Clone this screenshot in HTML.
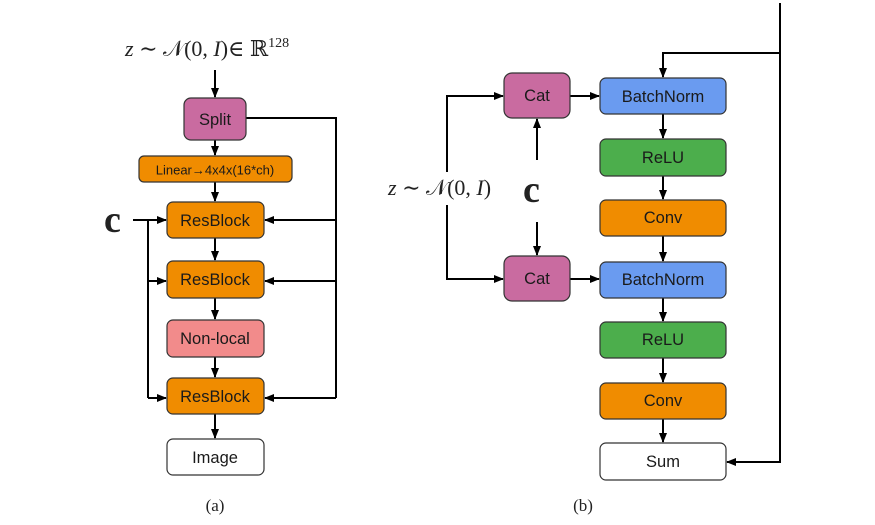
<!DOCTYPE html>
<html><head><meta charset="utf-8"><style>
html,body{margin:0;padding:0;background:#fff;}
svg{display:block;}
.b{font-family:"Liberation Sans",sans-serif;font-size:16.5px;text-anchor:middle;dominant-baseline:central;fill:#1a1a1a;}
.m{font-family:"Liberation Serif","DejaVu Serif",serif;fill:#222;}
</style></head><body>
<svg width="875" height="525" viewBox="0 0 875 525" xmlns="http://www.w3.org/2000/svg">
<defs>
<marker id="a" markerWidth="10" markerHeight="10" refX="9" refY="5" orient="auto" markerUnits="userSpaceOnUse">
<path d="M0,1 L10,5 L0,9 z" fill="#000"/></marker>
</defs>
<g stroke="#000" stroke-width="2" fill="none">
<!-- panel a -->
<line x1="215" y1="70" x2="215" y2="97" marker-end="url(#a)"/>
<line x1="215" y1="140" x2="215" y2="155" marker-end="url(#a)"/>
<line x1="215" y1="182" x2="215" y2="201" marker-end="url(#a)"/>
<line x1="215" y1="238" x2="215" y2="260" marker-end="url(#a)"/>
<line x1="215" y1="298" x2="215" y2="319" marker-end="url(#a)"/>
<line x1="215" y1="357" x2="215" y2="377" marker-end="url(#a)"/>
<line x1="215" y1="414" x2="215" y2="438" marker-end="url(#a)"/>
<polyline points="246,118 336,118 336,398"/>
<line x1="336" y1="220" x2="265" y2="220" marker-end="url(#a)"/>
<line x1="336" y1="281" x2="265" y2="281" marker-end="url(#a)"/>
<line x1="336" y1="398" x2="265" y2="398" marker-end="url(#a)"/>
<line x1="133" y1="220" x2="166" y2="220" marker-end="url(#a)"/>
<line x1="148" y1="220" x2="148" y2="398"/>
<line x1="148" y1="281" x2="166" y2="281" marker-end="url(#a)"/>
<line x1="148" y1="398" x2="166" y2="398" marker-end="url(#a)"/>
<!-- panel b -->
<polyline points="780,3 780,462 727,462" marker-end="url(#a)"/>
<polyline points="780,53 663,53 663,77" marker-end="url(#a)"/>
<line x1="570" y1="96" x2="599" y2="96" marker-end="url(#a)"/>
<line x1="570" y1="279" x2="599" y2="279" marker-end="url(#a)"/>
<line x1="663" y1="114" x2="663" y2="138" marker-end="url(#a)"/>
<line x1="663" y1="176" x2="663" y2="199" marker-end="url(#a)"/>
<line x1="663" y1="236" x2="663" y2="261" marker-end="url(#a)"/>
<line x1="663" y1="298" x2="663" y2="321" marker-end="url(#a)"/>
<line x1="663" y1="358" x2="663" y2="382" marker-end="url(#a)"/>
<line x1="663" y1="419" x2="663" y2="442" marker-end="url(#a)"/>
<polyline points="447,172 447,96 503,96" marker-end="url(#a)"/>
<polyline points="447,205 447,279 503,279" marker-end="url(#a)"/>
<line x1="537" y1="160" x2="537" y2="119" marker-end="url(#a)"/>
<line x1="537" y1="222" x2="537" y2="255" marker-end="url(#a)"/>
</g>
<g stroke="#333" stroke-width="1.2">
<rect x="184" y="98" width="62" height="42" rx="7" fill="#c96ba0"/>
<rect x="139" y="156" width="153" height="26" rx="5" fill="#f08c00"/>
<rect x="167" y="202" width="97" height="36" rx="6" fill="#f08c00"/>
<rect x="167" y="261" width="97" height="37" rx="6" fill="#f08c00"/>
<rect x="167" y="320" width="97" height="37" rx="6" fill="#f28b8b"/>
<rect x="167" y="378" width="97" height="36" rx="6" fill="#f08c00"/>
<rect x="167" y="439" width="97" height="36" rx="6" fill="#fff"/>
<rect x="504" y="73" width="66" height="45" rx="8" fill="#c96ba0"/>
<rect x="504" y="256" width="66" height="45" rx="8" fill="#c96ba0"/>
<rect x="600" y="78" width="126" height="36" rx="6" fill="#6a9bf0"/>
<rect x="600" y="139" width="126" height="37" rx="6" fill="#4cae4c"/>
<rect x="600" y="200" width="126" height="36" rx="6" fill="#f08c00"/>
<rect x="600" y="262" width="126" height="36" rx="6" fill="#6a9bf0"/>
<rect x="600" y="322" width="126" height="36" rx="6" fill="#4cae4c"/>
<rect x="600" y="383" width="126" height="36" rx="6" fill="#f08c00"/>
<rect x="600" y="443" width="126" height="37" rx="6" fill="#fff"/>
</g>
<text class="b" x="215" y="120">Split</text>
<text class="b" x="215" y="170" style="font-size:13px">Linear→4x4x(16*ch)</text>
<text class="b" x="215" y="221">ResBlock</text>
<text class="b" x="215" y="280">ResBlock</text>
<text class="b" x="215" y="339">Non-local</text>
<text class="b" x="215" y="397">ResBlock</text>
<text class="b" x="215" y="458">Image</text>
<text class="b" x="537" y="96">Cat</text>
<text class="b" x="537" y="279">Cat</text>
<text class="b" x="663" y="97">BatchNorm</text>
<text class="b" x="663" y="158">ReLU</text>
<text class="b" x="663" y="218">Conv</text>
<text class="b" x="663" y="280">BatchNorm</text>
<text class="b" x="663" y="340">ReLU</text>
<text class="b" x="663" y="401">Conv</text>
<text class="b" x="663" y="462">Sum</text>
<text class="m" x="125" y="56" font-size="22"><tspan font-style="italic">z</tspan> ∼ 𝒩(0, <tspan font-style="italic">I</tspan>)∈ ℝ<tspan font-size="14" dy="-9">128</tspan></text>
<text class="m" x="104" y="232" font-size="38" font-weight="bold">c</text>
<text class="m" x="388" y="195" font-size="22"><tspan font-style="italic">z</tspan> ∼ 𝒩(0, <tspan font-style="italic">I</tspan>)</text>
<text class="m" x="523" y="202" font-size="38" font-weight="bold">c</text>
<text class="m" x="215" y="511" font-size="17" text-anchor="middle">(a)</text>
<text class="m" x="583" y="511" font-size="17" text-anchor="middle">(b)</text>
</svg>
</body></html>
